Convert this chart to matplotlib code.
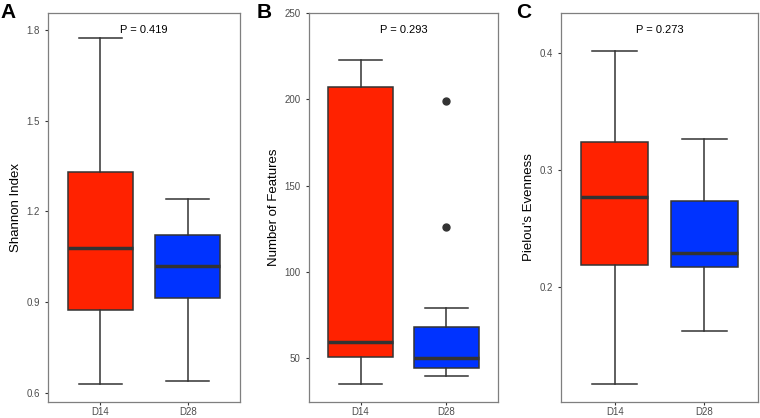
import matplotlib.pyplot as plt

plt.rcParams['font.family'] = ['Liberation Sans', 'DejaVu Sans']

groups = ['D14', 'D28']
box_colors = ['#FF2200', '#0033FF']

# summary stats: whislo, q1, med, q3, whishi
shannon = [[0.629, 0.874, 1.080, 1.331, 1.773],
           [0.640, 0.913, 1.020, 1.123, 1.242]]
shannon_fliers = [[], []]

features = [[35, 50.8, 59.2, 206.9, 223],
            [40, 44.6, 50, 68.3, 78.9]]
features_fliers = [[], [199, 125.8]]

pielou = [[0.117, 0.219, 0.2772, 0.324, 0.4017],
          [0.1627, 0.2174, 0.229, 0.274, 0.3268]]
pielou_fliers = [[], []]

panels = [
    ('A', 'Shannon Index', shannon, shannon_fliers, 'P = 0.419',
     (0.570, 1.856), [0.6, 0.9, 1.2, 1.5, 1.8], ['0.6', '0.9', '1.2', '1.5', '1.8']),
    ('B', 'Number of Features', features, features_fliers, 'P = 0.293',
     (24.7, 250), [50, 100, 150, 200, 250], ['50', '100', '150', '200', '250']),
    ('C', "Pielou's Evenness", pielou, pielou_fliers, 'P = 0.273',
     (0.102, 0.4345), [0.2, 0.3, 0.4], ['0.2', '0.3', '0.4']),
]

fig = plt.figure(figsize=(7.6, 4.18), dpi=100)
lefts = [48, 309, 561]
rights = [240, 498, 758]
letter_x = [0, 257, 516]

for i, (letter, ylabel, stats, fliers, ptext, ylim, ticks, ticklabels) in enumerate(panels):
    ax = fig.add_axes([lefts[i] / 760, 16 / 418, (rights[i] - lefts[i]) / 760, 389 / 418])
    bxp_stats = []
    for g, s, f in zip(groups, stats, fliers):
        bxp_stats.append({'label': g, 'whislo': s[0], 'q1': s[1], 'med': s[2],
                          'q3': s[3], 'whishi': s[4], 'fliers': f})
    bp = ax.bxp(bxp_stats, positions=[1, 2], widths=0.75, patch_artist=True,
                showfliers=True,
                boxprops=dict(edgecolor='#333333', linewidth=1.1),
                medianprops=dict(color='#333333', linewidth=2.5),
                whiskerprops=dict(color='#333333', linewidth=1.1),
                capprops=dict(color='#333333', linewidth=1.1),
                capwidths=0.5,
                flierprops=dict(marker='o', markerfacecolor='#333333',
                                markeredgecolor='#333333', markersize=5))
    for patch, c in zip(bp['boxes'], box_colors):
        patch.set_facecolor(c)
    ax.set_xlim(0.4, 2.6)
    ax.set_ylim(*ylim)
    ax.set_yticks(ticks)
    ax.set_yticklabels(ticklabels)
    ax.tick_params(axis='both', labelsize=7, labelcolor='#4D4D4D', color='#333333',
                   length=2.5, width=0.8)
    ax.tick_params(axis='x', pad=1.2)
    ax.tick_params(axis='y', pad=3.5)
    for sp in ax.spines.values():
        sp.set_color('#7F7F7F')
        sp.set_linewidth(0.9)
    ax.set_ylabel(ylabel, fontsize=9.5, color='black', labelpad=3)
    ax.text(1.5, 0.956, ptext, transform=ax.get_xaxis_transform(),
            ha='center', va='center', fontsize=8)
    fig.text(letter_x[i] / 760, 1 - 12 / 418, letter, fontsize=15, fontweight='bold',
             ha='left', va='center')

fig.savefig('out.png', dpi=100)
